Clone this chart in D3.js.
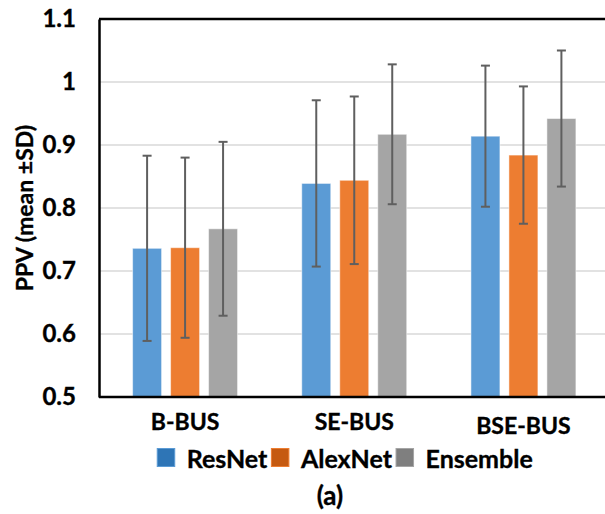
<!DOCTYPE html>
<html>
<head>
<meta charset="utf-8">
<script src="https://cdn.jsdelivr.net/npm/d3@7"></script>
<style>
  html, body { margin: 0; padding: 0; background: #fff; }
  svg { display: block; font-family: Lato, "Open Sans", sans-serif; font-weight: bold; }
  svg text { stroke: #000; stroke-width: 0.35px; }
</style>
</head>
<body>
<svg id="chart" width="605" height="514"></svg>
<script>
// ---- data ----
const categories = ["B-BUS", "SE-BUS", "BSE-BUS"];
const seriesNames = ["ResNet", "AlexNet", "Ensemble"];
const resnetMean = [0.736, 0.839, 0.914];
const resnetSD = [0.147, 0.132, 0.112];
const alexnetMean = [0.737, 0.844, 0.884];
const alexnetSD = [0.143, 0.133, 0.109];
const ensembleMean = [0.767, 0.917, 0.942];
const ensembleSD = [0.138, 0.111, 0.108];
const yTicks = [0.5, 0.6, 0.7, 0.8, 0.9, 1.0, 1.1];
const yTickLabels = ["0.5", "0.6", "0.7", "0.8", "0.9", "1", "1.1"];
const yTitle = "PPV (mean \u00B1SD)";
const caption = "(a)";

const barColors = ["#5B9BD5", "#ED7D31", "#A5A5A5"];
const swatchColors = ["#2E75B6", "#C55A11", "#7F7F7F"];

const means = [resnetMean, alexnetMean, ensembleMean];
const sds = [resnetSD, alexnetSD, ensembleSD];
const rows = [];
categories.forEach((c, ci) => {
  seriesNames.forEach((s, si) => {
    rows.push({ cat: c, series: s, si, mean: means[si][ci], sd: sds[si][ci] });
  });
});

// ---- layout ----
const svg = d3.select("#chart");
const mLeft = 99, mRight = 608, mTop = 19, mBottom = 397;
const FONT = "Lato, sans-serif";

const x0 = d3.scaleBand().domain(categories).range([mLeft + 1.5, mRight]).padding(0);
const x1 = d3.scaleBand().domain(seriesNames).range([0, x0.bandwidth()])
  .paddingInner(0.237).paddingOuter(0.845);
const y = d3.scaleLinear().domain([0.5, 1.1]).range([mBottom, mTop]);

// gridlines
svg.append("g")
  .selectAll("line")
  .data(yTicks.filter(t => t > 0.5 && t < 1.1))
  .join("line")
  .attr("x1", mLeft).attr("x2", 605)
  .attr("y1", d => y(d)).attr("y2", d => y(d))
  .attr("stroke", "#D9D9D9").attr("stroke-width", 1.5);

// bars
svg.append("g")
  .selectAll("rect")
  .data(rows)
  .join("rect")
  .attr("x", d => x0(d.cat) + x1(d.series))
  .attr("width", x1.bandwidth())
  .attr("y", d => y(d.mean))
  .attr("height", d => y(0.5) - y(d.mean))
  .attr("fill", d => barColors[d.si])
  .attr("stroke", "rgba(255,255,255,0.5)")
  .attr("stroke-width", 1);

// error bars
const eb = svg.append("g").attr("stroke", "#5F5F5F").attr("stroke-width", 2);
rows.forEach(d => {
  const cx = x0(d.cat) + x1(d.series) + x1.bandwidth() / 2;
  const yt = y(d.mean + d.sd), yb = y(d.mean - d.sd);
  eb.append("line").attr("x1", cx).attr("x2", cx).attr("y1", yt).attr("y2", yb);
  eb.append("line").attr("x1", cx - 4.5).attr("x2", cx + 4.5).attr("y1", yt).attr("y2", yt);
  eb.append("line").attr("x1", cx - 4.5).attr("x2", cx + 4.5).attr("y1", yb).attr("y2", yb);
});

// frame: top line
svg.append("line")
  .attr("x1", mLeft).attr("x2", 605)
  .attr("y1", mTop).attr("y2", mTop)
  .attr("stroke", "#000").attr("stroke-width", 2.5);

// y axis
const yAxis = d3.axisLeft(y).tickValues(yTicks)
  .tickFormat((d, i) => yTickLabels[i]).tickSize(0).tickPadding(23);
const gy = svg.append("g").attr("transform", `translate(${mLeft},0)`).call(yAxis);
gy.select(".domain").attr("stroke", "#000").attr("stroke-width", 2.5);
gy.selectAll("text").attr("font-size", 24).attr("font-family", FONT)
  .attr("font-weight", "bold").attr("fill", "#000");

// x axis
const xAxis = d3.axisBottom(x0).tickSize(0).tickPadding(17);
const gx = svg.append("g").attr("transform", `translate(0,${mBottom})`).call(xAxis);
gx.select(".domain").attr("d", `M${mLeft},0H605`).attr("stroke", "#000").attr("stroke-width", 2.5);
gx.selectAll("text").attr("font-size", 23).attr("font-family", FONT)
  .attr("font-weight", "bold").attr("fill", "#000");
gx.selectAll(".tick").filter((d, i) => i === 2).select("text").attr("dy", "0.86em");

// y title
svg.append("text")
  .attr("transform", `translate(24,${(mTop + mBottom) / 2}) rotate(-90)`)
  .attr("text-anchor", "middle").attr("dominant-baseline", "central")
  .attr("font-size", 23).attr("fill", "#000")
  .text(yTitle);

// legend
const legend = svg.append("g");
let lx = 0;
seriesNames.forEach((s, i) => {
  const g = legend.append("g").attr("transform", `translate(${lx},0)`);
  g.append("rect").attr("x", 0).attr("y", -9).attr("width", 17.5).attr("height", 18)
    .attr("fill", swatchColors[i]).attr("stroke", barColors[i]).attr("stroke-width", 1);
  const t = g.append("text").attr("x", 29.5).attr("y", 0).attr("dominant-baseline", "central")
    .attr("font-size", 25).attr("fill", "#000").text(s);
  const w = t.node().getComputedTextLength();
  lx += 29.5 + w + 4;
});
const legendW = lx - 4;
legend.attr("transform", `translate(${345 - legendW / 2},457.5)`);

// caption
svg.append("text")
  .attr("x", 330).attr("y", 505)
  .attr("text-anchor", "middle")
  .attr("font-size", 26).attr("fill", "#000")
  .text(caption);
</script>
</body>
</html>
